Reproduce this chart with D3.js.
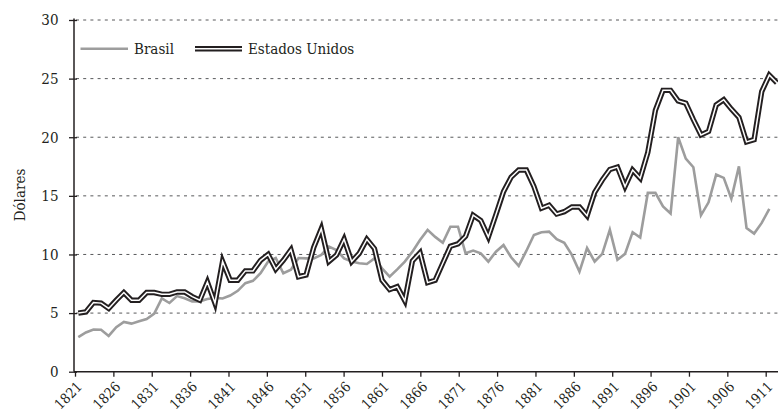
<!DOCTYPE html>
<html>
<head>
<meta charset="utf-8">
<script src="https://cdn.jsdelivr.net/npm/d3@7"></script>
<style>
    body { margin: 0; background: #fff; }
    text { font-family: "DejaVu Serif Condensed", "DejaVu Serif", serif; }
</style>
</head>
<body>
<div id="chart"></div>
<script>
// anos: 1821 em diante, um valor por ano
var anoInicial = 1821;

var brasil = [2.95, 3.35, 3.6, 3.58, 3.05, 3.8, 4.25, 4.1, 4.3, 4.5,
    4.95, 6.26, 5.86, 6.45, 6.26, 6.0, 6.0, 6.2, 6.3, 6.25,
    6.5, 6.9, 7.55, 7.75, 8.4, 9.4, 9.7, 8.4, 8.7, 9.7,
    9.67, 9.67, 9.96, 10.67, 10.38, 9.67, 9.39, 9.25, 9.19, 9.67,
    8.82, 8.1, 8.73, 9.39, 10.24, 11.24, 12.1, 11.5, 11.0, 12.37,
    12.37, 10.1, 10.33, 10.1, 9.39, 10.24, 10.81, 9.76, 9.02, 10.3,
    11.66, 11.89, 11.95, 11.3, 11.0, 9.96, 8.53, 10.55, 9.4, 10.05,
    12.1, 9.55, 10.05, 11.9, 11.45, 15.25, 15.25, 14.1, 13.5, 20.0,
    18.18, 17.44, 13.34, 14.45, 16.81, 16.53, 14.76, 17.52, 12.26, 11.78,
    12.69, 13.88];

var estadosUnidos = [5.0, 5.1, 5.9, 5.85, 5.4, 6.1, 6.75, 6.1, 6.1, 6.75,
    6.75, 6.6, 6.6, 6.8, 6.8, 6.4, 6.1, 7.65, 5.85, 9.4,
    7.8, 7.8, 8.6, 8.6, 9.5, 10.0, 8.75, 9.5, 10.4, 8.1,
    8.25, 10.6, 12.2, 9.4, 9.95, 11.3, 9.4, 10.1, 11.3, 10.5,
    7.8, 7.0, 7.25, 6.05, 9.45, 10.15, 7.6, 7.8, 9.25, 10.7,
    10.9, 11.55, 13.35, 12.9, 11.5, 13.4, 15.36, 16.6, 17.2, 17.2,
    15.8, 13.95, 14.2, 13.45, 13.65, 14.05, 14.05, 13.3, 15.3, 16.35,
    17.25, 17.45, 15.8, 17.2, 16.5, 18.7, 22.3, 24.0, 24.0, 23.1,
    22.9, 21.5, 20.2, 20.5, 22.75, 23.2, 22.4, 21.7, 19.6, 19.8,
    23.9, 25.3, 24.65];

var tickAnos = [1821, 1826, 1831, 1836, 1841, 1846, 1851, 1856, 1861, 1866,
    1871, 1876, 1881, 1886, 1891, 1896, 1901, 1906, 1911];
var yTicks = [0, 5, 10, 15, 20, 25, 30];
var nomes = ["Brasil", "Estados Unidos"];
var yTitulo = "Dólares";

drawChart();

function drawChart() {
    var width = 778,
        height = 417;

    var svg = d3.select("#chart").append("svg")
        .attr("width", width)
        .attr("height", height);

    var x = d3.scaleLinear().domain([1821, 1913]).range([78.3, 776.9]);
    // the printed ticks sit on a slightly different grid than the points
    var xTick = d3.scaleLinear().domain([1821, 1911]).range([75, 765.7]);
    var y = d3.scaleLinear().domain([0, 30]).range([371.7, 20]);

    // grid
    svg.append("g").selectAll("line")
        .data(yTicks.slice(1))
        .enter().append("line")
        .attr("x1", 76).attr("x2", 778)
        .attr("y1", function(d) { return y(d); })
        .attr("y2", function(d) { return y(d); })
        .attr("stroke", "#58595b")
        .attr("stroke-width", 1)
        .attr("stroke-dasharray", "3,4.2");

    var line = d3.line()
        .x(function(d, i) { return x(anoInicial + i); })
        .y(function(d) { return y(d); });

    svg.append("path")
        .datum(brasil)
        .attr("d", line)
        .attr("fill", "none")
        .attr("stroke", "#9d9d9d")
        .attr("stroke-width", 2.6);

    // double line: black stroke with a thin white one on top
    svg.append("path")
        .datum(estadosUnidos)
        .attr("d", line)
        .attr("fill", "none")
        .attr("stroke", "#231f20")
        .attr("stroke-width", 5.4);
    svg.append("path")
        .datum(estadosUnidos)
        .attr("d", line)
        .attr("fill", "none")
        .attr("stroke", "#fff")
        .attr("stroke-width", 1.5);

    // y axis
    var yAxis = svg.append("g")
        .attr("transform", "translate(74,0)")
        .call(d3.axisLeft(y).tickValues(yTicks).tickSize(5).tickSizeOuter(0).tickPadding(10));
    yAxis.attr("font-family", null).attr("font-size", 15);
    yAxis.select(".domain").attr("stroke", "#231f20").attr("stroke-width", 1.5)
        .attr("d", "M0,18.5V" + y(0));
    yAxis.selectAll(".tick line").attr("x1", 3).attr("x2", -5)
        .attr("stroke", "#231f20").attr("stroke-width", 1.3);
    yAxis.selectAll(".tick text")
        .attr("x", -15.5)
        .attr("fill", "#231f20");

    // x axis, labels placed separately so they can be turned
    var xAxis = svg.append("g")
        .attr("transform", "translate(0," + y(0) + ")")
        .call(d3.axisBottom(xTick).tickValues(tickAnos).tickSize(5).tickSizeOuter(0)
            .tickFormat(""));
    xAxis.select(".domain").attr("stroke", "#231f20").attr("stroke-width", 1.5)
        .attr("d", "M74,0H778");
    xAxis.selectAll(".tick line").attr("stroke", "#231f20").attr("stroke-width", 1.3);

    svg.append("g").selectAll("g")
        .data(tickAnos)
        .enter().append("g")
        .attr("transform", function(d) {
            return "translate(" + (xTick(d) + 8) + "," + (y(0) + 16) + ") rotate(-45)";
        })
        .append("text")
        .attr("text-anchor", "end")
        .attr("font-size", 14)
        .attr("fill", "#231f20")
        .text(function(d) { return d; });

    svg.append("text")
        .attr("transform", "translate(25,195) rotate(-90)")
        .attr("text-anchor", "middle")
        .attr("font-size", 15)
        .attr("fill", "#231f20")
        .text(yTitulo);

    // legend
    var leg = svg.append("g").attr("font-size", 15).attr("fill", "#231f20");
    leg.append("line")
        .attr("x1", 80.5).attr("x2", 128).attr("y1", 48.7).attr("y2", 48.7)
        .attr("stroke", "#9d9d9d").attr("stroke-width", 2.6);
    leg.append("text").attr("x", 134).attr("y", 54).text(nomes[0]);
    leg.append("line")
        .attr("x1", 195).attr("x2", 242).attr("y1", 48.7).attr("y2", 48.7)
        .attr("stroke", "#231f20").attr("stroke-width", 5.4);
    leg.append("line")
        .attr("x1", 195).attr("x2", 242).attr("y1", 48.7).attr("y2", 48.7)
        .attr("stroke", "#fff").attr("stroke-width", 1.5);
    leg.append("text").attr("x", 248).attr("y", 54).text(nomes[1]);
}
</script>
</body>
</html>
